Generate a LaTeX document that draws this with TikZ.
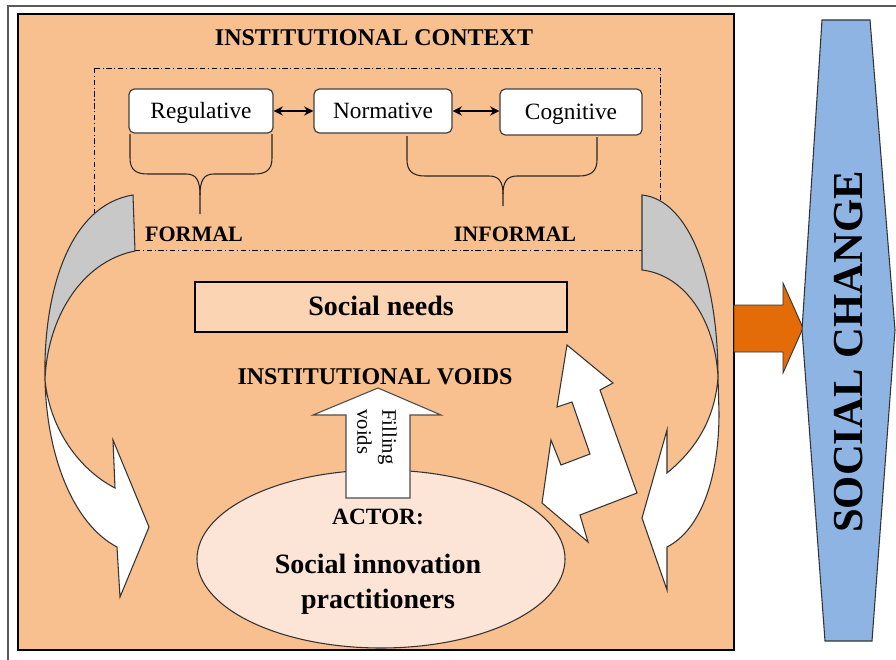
\documentclass[tikz,border=0pt]{standalone}
\usepackage{fontspec}
\setmainfont{Liberation Serif}
\usetikzlibrary{arrows.meta,shapes.geometric}
\definecolor{peach}{RGB}{248,191,143}
\definecolor{lightpeach}{RGB}{251,212,180}
\definecolor{paleellipse}{RGB}{252,228,214}
\definecolor{grayarrow}{RGB}{200,200,200}
\definecolor{orangearrow}{RGB}{227,108,9}
\definecolor{bluehex}{RGB}{141,180,226}
\definecolor{framegray}{RGB}{90,90,90}
\begin{document}
\begin{tikzpicture}[x=0.75pt,y=-0.75pt,
  instbox/.style={draw=black!75, fill=white, rounded corners=4pt, line width=0.9pt,
    font=\fontsize{17.5}{20}\selectfont, inner sep=0pt, text height=14pt, text depth=2.5pt},
  boldlabel/.style={inner sep=0pt, anchor=base},
  shapeline/.style={draw=black!80, line width=0.8pt, line join=miter},
  bracestyle/.style={draw=black!85, line width=0.8pt},
  dashdot/.style={draw=black, line width=0.6pt, dash pattern=on 4pt off 2pt on 0.8pt off 2pt},
  dblarrow/.style={{Stealth[length=7pt,width=7pt]}-{Stealth[length=7pt,width=7pt]}, line width=1.3pt}
]
\useasboundingbox (0,0) rectangle (896,660);
% outer frame
\coordinate (fa) at (8,660);
\coordinate (fb) at (8,6);
\coordinate (fc) at (896,6);
\draw[framegray, line width=1pt] (fa) -- (fb) -- (fc);
% orange context box
\draw[fill=peach, draw=black, line width=0.8pt] (18,14) rectangle (734,650);
\node[boldlabel, font=\fontsize{18}{21}\selectfont\bfseries] (title) at (374,46) {INSTITUTIONAL CONTEXT};
% dash-dot box
\draw[dashdot] (94,68) rectangle (660,250);
% pillars
\node[instbox, minimum width=108pt, minimum height=33pt] (reg) at (201,111) {Regulative};
\node[instbox, minimum width=103.5pt, minimum height=33pt] (norm) at (383,111) {Normative};
\node[instbox, minimum width=106.5pt, minimum height=34.5pt] (cog) at (571,112) {Cognitive};
\draw[dblarrow] (reg) -- (norm);
\draw[dblarrow] (norm.east) -- (cog.west |- norm.east);
% braces
\draw[bracestyle] (130,134) -- (130,158) .. controls (130,170) and (136,174) .. (148,174) -- (186,174) .. controls (196,174) and (200,180) .. (200,195) -- (200,214);
\draw[bracestyle] (272,134) -- (272,158) .. controls (272,170) and (266,174) .. (254,174) -- (214,174) .. controls (204,174) and (200,180) .. (200,195);
\draw[bracestyle] (407,136) -- (407,160) .. controls (407,171) and (413,176) .. (425,176) -- (489,176) .. controls (499,176) and (503,182) .. (503,194) -- (503,206);
\draw[bracestyle] (597,137) -- (597,160) .. controls (597,171) and (591,176) .. (579,176) -- (517,176) .. controls (507,176) and (503,182) .. (503,194);
\node[boldlabel, font=\fontsize{16.5}{19}\selectfont\bfseries] (formal) at (194,241) {FORMAL};
\node[boldlabel, font=\fontsize{16.5}{19}\selectfont\bfseries] (informal) at (515,241) {INFORMAL};
% left curved arrow
\filldraw[shapeline, fill=grayarrow] (133,195) -- (135,251) .. controls (80,262) and (47,320) .. (45,380) .. controls (43,290) and (70,205) .. (133,195) -- cycle;
\filldraw[shapeline, fill=white] (45,380) .. controls (47,460) and (75,525) .. (117,547) -- (120,597) -- (149,527) -- (113,440) -- (115,488) .. controls (80,470) and (50,430) .. (45,380) -- cycle;
% right curved arrow
\filldraw[shapeline, fill=grayarrow] (642,195) -- (642,270) .. controls (685,275) and (715,320) .. (718,377) .. controls (718,280) and (690,200) .. (642,195) -- cycle;
\filldraw[shapeline, fill=white] (718,377) -- (719,413) .. controls (719,480) and (700,530) .. (667,547) -- (667,590) -- (642,518) -- (667,430) -- (667,473) .. controls (695,450) and (715,420) .. (718,377) -- cycle;
% social needs
\node[draw=black, line width=1.6pt, fill=lightpeach, minimum width=279pt, minimum height=37.5pt, inner sep=0pt,
  font=\fontsize{21}{24}\selectfont\bfseries, text height=15pt, text depth=3pt] (needs) at (381,307) {Social needs};
\node[boldlabel, font=\fontsize{18}{21}\selectfont\bfseries] (voids) at (375,384) {INSTITUTIONAL VOIDS};
% actor ellipse
\node[ellipse, draw=black!80, line width=0.8pt, fill=paleellipse, minimum width=276pt, minimum height=133.5pt, inner sep=0pt] (actor) at (381,559) {};
% filling voids arrow
\filldraw[shapeline, draw=black!70, fill=white] (346,498) -- (346,415) -- (313,415) -- (378,388) -- (441,415) -- (410,415) -- (410,498) -- cycle;
\node[rotate=-90, align=left, inner sep=0pt, font=\fontsize{15.5}{18.75}\selectfont] (filling) at (377,437) {Filling\\voids};
\node[boldlabel, font=\fontsize{17.5}{20}\selectfont\bfseries] (actorlabel) at (378,524) {ACTOR:};
\node[boldlabel, font=\fontsize{21}{24}\selectfont\bfseries] (si) at (378,573) {Social innovation};
\node[boldlabel, font=\fontsize{21}{24}\selectfont\bfseries] (pr) at (378,608) {practitioners};
% zigzag arrow
\filldraw[shapeline, fill=white] (567,345) -- (613,383) -- (600,390) -- (637,493) -- (580,515) -- (588,542) -- (542,503) -- (551,440) -- (561,465) -- (590,454) -- (572,402) -- (557,407) -- cycle;
% orange arrow
\filldraw[draw=black!80, line width=0.7pt, fill=orangearrow] (734,305) -- (783,305) -- (783,283) -- (803,328) -- (783,373) -- (783,352) -- (734,352) -- cycle;
% social change hexagon
\filldraw[draw=black!80, line width=0.8pt, fill=bluehex] (822,20) -- (870,20) -- (895,330) -- (872,641) -- (825,641) -- (802,330) -- cycle;
\node[rotate=90, boldlabel, font=\fontsize{32}{36}\selectfont\bfseries] (change) at (862,352) {SOCIAL CHANGE};
\end{tikzpicture}
\end{document}
